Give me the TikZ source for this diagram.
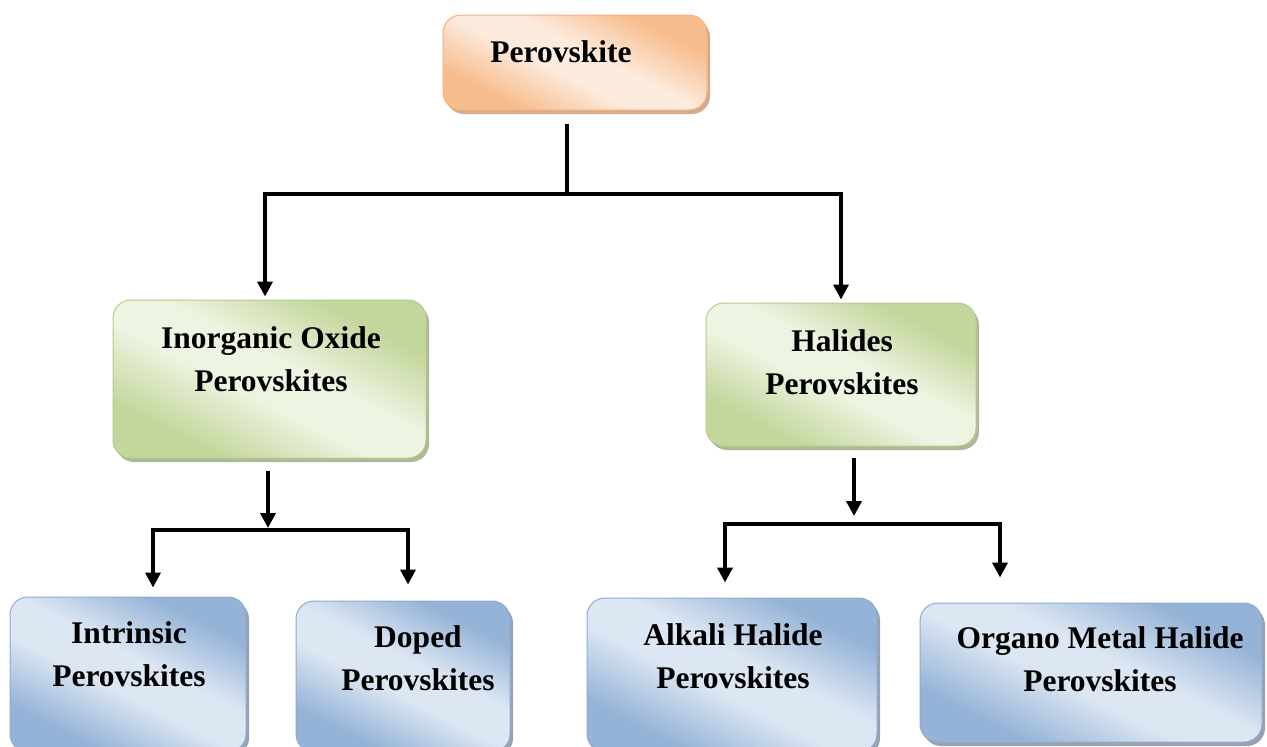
\documentclass[tikz,border=0pt]{standalone}
\usepackage{fontspec}
\setmainfont{Liberation Serif}
\usetikzlibrary{arrows.meta,shadows}
\definecolor{orD}{HTML}{F7BC8C}
\definecolor{orL}{HTML}{FDEBDD}
\definecolor{orB}{HTML}{F4B183}
\definecolor{orS}{HTML}{C9966E}
\definecolor{grD}{HTML}{C3D69B}
\definecolor{grL}{HTML}{EEF4E2}
\definecolor{grB}{HTML}{B7CC8A}
\definecolor{grS}{HTML}{98A880}
\definecolor{blD}{HTML}{95B3D7}
\definecolor{blL}{HTML}{DDE7F3}
\definecolor{blB}{HTML}{8FAAD6}
\definecolor{blS}{HTML}{7F8C9C}
\pgfdeclareverticalshading{orshade}{100bp}{color(0bp)=(orD); color(28bp)=(orD); color(45bp)=(orL); color(55bp)=(orL); color(72bp)=(orD); color(100bp)=(orD)}
\pgfdeclareverticalshading{grshade}{100bp}{color(0bp)=(grD); color(28bp)=(grD); color(45bp)=(grL); color(55bp)=(grL); color(72bp)=(grD); color(100bp)=(grD)}
\pgfdeclareverticalshading{blshade}{100bp}{color(0bp)=(blD); color(28bp)=(blD); color(45bp)=(blL); color(55bp)=(blL); color(72bp)=(blD); color(100bp)=(blD)}
\tikzset{
  box/.style={rectangle, rounded corners=18pt, inner sep=0pt, line width=1pt},
  orbox/.style={box, draw=orB, shading=orshade, shading angle=-27,
     drop shadow={shadow xshift=3pt, shadow yshift=-4pt, fill=orS, opacity=0.8}},
  grbox/.style={box, draw=grB, shading=grshade, shading angle=-27,
     drop shadow={shadow xshift=3pt, shadow yshift=-4pt, fill=grS, opacity=0.8}},
  blbox/.style={box, draw=blB, shading=blshade, shading angle=-27,
     drop shadow={shadow xshift=3pt, shadow yshift=-4pt, fill=blS, opacity=0.8}},
  txt/.style={align=center, inner sep=0pt, font=\bfseries\fontsize{31.5}{43}\selectfont},
  conn/.style={line width=4pt, line join=miter, draw=black},
  tip/.tip={Triangle[width=15pt,length=15pt]},
}
\begin{document}
\begin{tikzpicture}[x=1pt,y=-1pt]
\useasboundingbox (0,0) rectangle (1267,747);
\clip (0,0) rectangle (1267,747);
% boxes
\node[orbox, minimum width=264pt, minimum height=95pt] (top) at (575,62.5) {};
\node[grbox, minimum width=313pt, minimum height=158pt] (inorg) at (269.5,379) {};
\node[grbox, minimum width=270pt, minimum height=143pt] (hal) at (841,374.5) {};
\node[blbox, minimum width=236pt, minimum height=155pt] (intr) at (128,674.5) {};
\node[blbox, minimum width=214pt, minimum height=151pt] (dop) at (403,676.5) {};
\node[blbox, minimum width=290pt, minimum height=154pt] (alk) at (732,675) {};
\node[blbox, minimum width=342pt, minimum height=139pt] (org) at (1091,672.5) {};
% texts
\node[txt, anchor=base] (ttop) at (561,62.5) {Perovskite};
\node[txt] (tinorg) at (271,359) {Inorganic Oxide\\Perovskites};
\node[txt] (thal) at (842,362.5) {Halides\\Perovskites};
\node[txt] (tintr) at (129,654) {Intrinsic\\Perovskites};
\node[txt] (tdop) at (418,658) {Doped\\Perovskites};
\node[txt] (talk) at (733,656.5) {Alkali Halide\\Perovskites};
\node[txt] (torg) at (1100,659.5) {Organo Metal Halide\\Perovskites};
% junctions
\coordinate (j0) at (567,194);
\coordinate (jl) at (265,194);
\coordinate (jr) at (841,194);
\coordinate (k0) at (268,530);
\coordinate (kl) at (153,530);
\coordinate (kr) at (408,530);
\coordinate (m0) at (854,524);
\coordinate (ml) at (725,524);
\coordinate (mr) at (1000,524);
% connectors
\draw[conn] ([yshift=-13pt]top.south -| j0) -- (j0);
\draw[conn, tip-tip] ([yshift=3pt]inorg.north -| jl) -- (jl) -- (jr) -- ([yshift=3pt]hal.north -| jr);
\draw[conn, -tip] ([yshift=-12pt]inorg.south -| k0) -- ([yshift=2pt]k0);
\draw[conn, tip-tip] ([yshift=9pt]intr.north -| kl) -- (kl) -- (kr) -- ([yshift=16pt]dop.north -| kr);
\draw[conn, -tip] ([yshift=-11pt]hal.south -| m0) -- ([yshift=8pt]m0);
\draw[conn, tip-tip] ([yshift=15pt]alk.north -| ml) -- (ml) -- (mr) -- ([yshift=25pt]org.north -| mr);
\end{tikzpicture}
\end{document}
